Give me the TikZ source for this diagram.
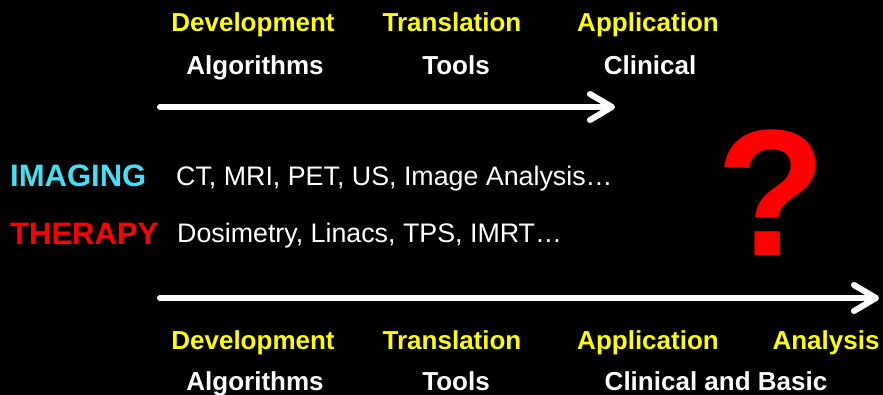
\documentclass[tikz,border=0pt]{standalone}
\usepackage{fontspec}
\setmainfont{Liberation Sans}
\usetikzlibrary{arrows.meta}
\definecolor{imgcyan}{RGB}{70,222,242}
\definecolor{labyellow}{RGB}{255,255,0}

\begin{document}
\begin{tikzpicture}[x=1pt,y=-1pt,
    stage/.style={text=labyellow,font=\fontsize{26}{30}\selectfont\bfseries,anchor=base,inner sep=0pt},
    sub/.style={text=white,font=\fontsize{26}{30}\selectfont\bfseries,anchor=base,inner sep=0pt},
    field/.style={font=\fontsize{31}{35}\selectfont\bfseries,anchor=base west,inner sep=0pt},
    item/.style={text=white,font=\fontsize{26.8}{30}\selectfont,anchor=base west,inner sep=0pt},
    flow/.style={draw=white,line width=6pt,line cap=round,-{Straight Barb[length=22pt,width=26pt,round]}}]
    % Background
    \fill[black] (0,0) rectangle (883,395);
    \useasboundingbox (0,0) rectangle (883,395);

    % Top stages
    \node[stage] (dev1) at (253,32) {Development};
    \node[stage] (tra1) at (452,32) {Translation};
    \node[stage] (app1) at (648,32) {Application};
    \node[sub] (alg1) at (255,75) {Algorithms};
    \node[sub] (too1) at (456,75) {Tools};
    \node[sub] (cli1) at (650,75) {Clinical};

    % Top arrow
    \coordinate (s1) at (160,107);
    \coordinate (e1) at (615,107);
    \draw[flow] (s1) -- (e1);

    % Fields
    \node[field,text=imgcyan] (img) at (10,187) {IMAGING};
    \node[field,text=red] (ther) at (10,245) {THERAPY};
    \node[item] (imgitems) at (176,186) {CT, MRI, PET, US, Image Analysis…};
    \node[item] (theritems) at (177,243) {Dosimetry, Linacs, TPS, IMRT…};

    % Question mark
    \node[text=red,font=\fontsize{180}{190}\selectfont\bfseries,anchor=base,inner sep=0pt] (quest) at (771,255) {?};

    % Bottom arrow
    \coordinate (s2) at (160,298);
    \coordinate (e2) at (879,298);
    \draw[flow] (s2) -- (e2);

    % Bottom stages
    \node[stage] (dev2) at (253,349) {Development};
    \node[stage] (tra2) at (452,349) {Translation};
    \node[stage] (app2) at (648,349) {Application};
    \node[stage] (ana2) at (826,349) {Analysis};
    \node[sub] (alg2) at (255,390) {Algorithms};
    \node[sub] (too2) at (456,390) {Tools};
    \node[sub] (cli2) at (716,390) {Clinical and Basic};
\end{tikzpicture}
\end{document}
